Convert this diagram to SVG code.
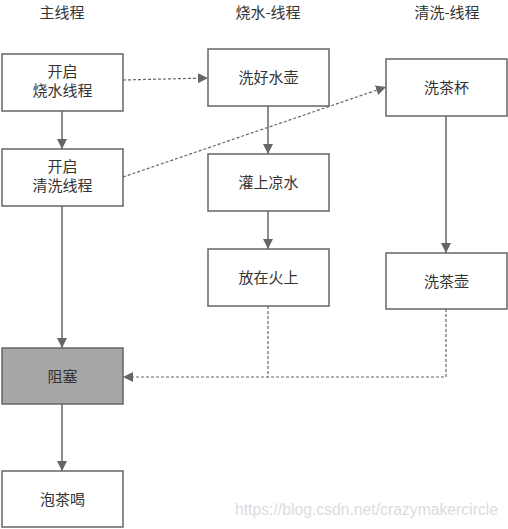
<svg xmlns="http://www.w3.org/2000/svg" width="508" height="529" viewBox="0 0 508 529">
<style>
.box{fill:#ffffff;stroke:#666666;stroke-width:1.5}
.blk{fill:#a6a6a6;stroke:#666666;stroke-width:1.5}
text{font-family:"Noto Sans CJK SC","Liberation Sans",sans-serif;font-size:15px;fill:#333333;text-anchor:middle}
.ln{fill:none;stroke:#666666;stroke-width:1.5}
.ds{fill:none;stroke:#666666;stroke-width:1.2;stroke-dasharray:3 2}
.wm{font-family:"Liberation Sans",sans-serif;font-size:16px;fill:#dcdcdc;text-anchor:start}
</style>
<defs>
<marker id="ah" viewBox="0 0 10 10" refX="10" refY="5" markerWidth="10" markerHeight="11" markerUnits="userSpaceOnUse" orient="auto">
<path d="M0,0 L10,5 L0,10 Z" fill="#666666"/>
</marker>
</defs>
<g id="headers">
<text x="62" y="18">主线程</text>
<text x="268" y="18">烧水-线程</text>
<text x="447" y="18">清洗-线程</text>
</g>
<g id="connectors">
<path class="ln" d="M62,111 V149" marker-end="url(#ah)"/>
<path class="ds" d="M123,80 L208,78" marker-end="url(#ah)"/>
<path class="ds" d="M123,177 L386,87" marker-end="url(#ah)"/>
<path class="ln" d="M268,106 V154" marker-end="url(#ah)"/>
<path class="ln" d="M268,211 V249" marker-end="url(#ah)"/>
<path class="ln" d="M446,116 V253" marker-end="url(#ah)"/>
<path class="ln" d="M62,206 V348" marker-end="url(#ah)"/>
<path class="ds" d="M268,306 V377 H123" marker-end="url(#ah)"/>
<path class="ds" d="M446,309 V377 H268"/>
<path class="ln" d="M62,404 V471" marker-end="url(#ah)"/>
</g>
<g id="n1"><rect class="box" x="2" y="54" width="121" height="57"/><text x="62.5" y="77">开启</text><text x="62.5" y="96">烧水线程</text></g>
<g id="n2"><rect class="box" x="2" y="149" width="121" height="57"/><text x="62.5" y="172">开启</text><text x="62.5" y="191">清洗线程</text></g>
<g id="n3"><rect class="box" x="208" y="49" width="121" height="57"/><text x="268.5" y="83">洗好水壶</text></g>
<g id="n4"><rect class="box" x="208" y="154" width="121" height="57"/><text x="268.5" y="188">灌上凉水</text></g>
<g id="n5"><rect class="box" x="208" y="249" width="121" height="57"/><text x="268.5" y="283">放在火上</text></g>
<g id="n6"><rect class="box" x="386" y="59" width="121" height="57"/><text x="446.5" y="93">洗茶杯</text></g>
<g id="n7"><rect class="box" x="386" y="253" width="121" height="56"/><text x="446.5" y="287">洗茶壶</text></g>
<g id="n8"><rect class="blk" x="2" y="348" width="121" height="56"/><text x="62.5" y="382">阻塞</text></g>
<g id="n9"><rect class="box" x="2" y="471" width="121" height="56"/><text x="62.5" y="505">泡茶喝</text></g>
<text class="wm" x="235" y="515" textLength="263" lengthAdjust="spacingAndGlyphs">https://blog.csdn.net/crazymakercircle</text>
</svg>
